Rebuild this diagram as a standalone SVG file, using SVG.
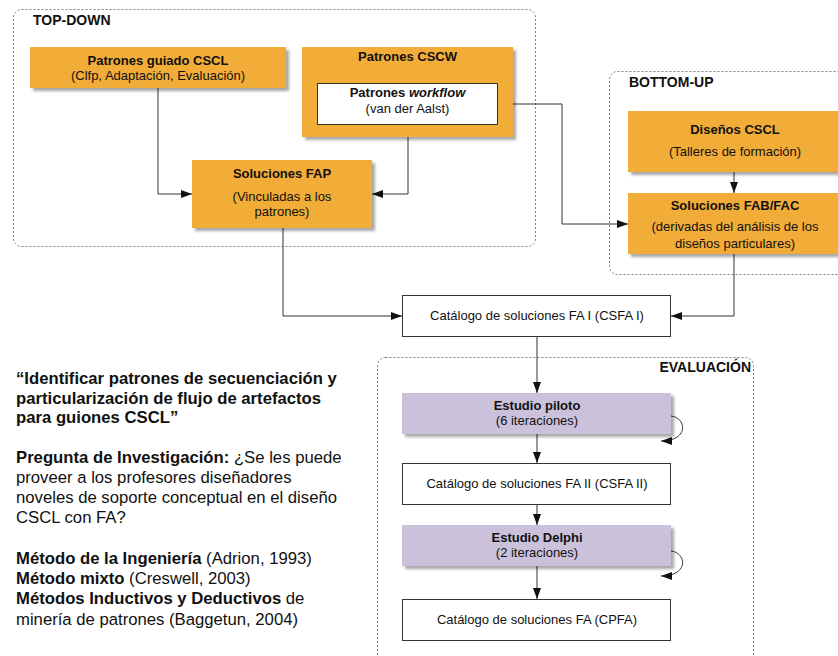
<svg xmlns="http://www.w3.org/2000/svg" width="838" height="656" viewBox="0 0 838 656">
<defs>
<filter id="sh" x="-10%" y="-20%" width="130%" height="150%">
<feDropShadow dx="3" dy="3" stdDeviation="1.5" flood-color="#000" flood-opacity="0.35"/>
</filter>
<marker id="ah" viewBox="0 0 11 8" refX="11" refY="4" markerWidth="11" markerHeight="8" markerUnits="userSpaceOnUse" orient="auto">
<path d="M0,0 L11,4 L0,8 z" fill="#111"/>
</marker>
<style>
.grp{fill:none;stroke:#7f7f7f;stroke-width:1;stroke-dasharray:2,2}
.gl{font-family:"Liberation Sans",Arial,sans-serif;font-size:14px;font-weight:bold;fill:#111}
.org{fill:#F2AC38;filter:url(#sh)}
.pur{fill:#CCC1DA;filter:url(#sh)}
.wht{fill:#fff;stroke:#333;stroke-width:1}
.t{font-family:"Liberation Sans",Arial,sans-serif;font-size:13px;fill:#111;text-anchor:middle}
.b{font-weight:bold}
.c{fill:none;stroke:#333;stroke-width:1;marker-end:url(#ah)}
.lt{font-family:"Liberation Sans",Arial,sans-serif;font-size:16.7px;fill:#111}
</style>
</defs>
<rect width="838" height="656" fill="#fff"/>

<g id="group-topdown">
<rect class="grp" x="13.5" y="9.5" width="522" height="237" rx="8"/>
<text class="gl" x="33" y="25">TOP-DOWN</text>
</g>
<g id="group-bottomup">
<rect class="grp" x="609.5" y="71.5" width="260" height="203" rx="8"/>
<text class="gl" x="629" y="87">BOTTOM-UP</text>
</g>
<g id="group-evaluacion">
<rect class="grp" x="377.5" y="357.5" width="376" height="320" rx="8"/>
<text class="gl" x="751" y="372" text-anchor="end">EVALUACIÓN</text>
</g>

<g id="connectors">
<path class="c" d="M158,88 V194 H192"/>
<path class="c" d="M408,137 V194 H372"/>
<path class="c" d="M497,104 H562 V224 H628"/>
<path class="c" d="M734,172 V193"/>
<path class="c" d="M283,228 V316 H402"/>
<path class="c" d="M734,254 V316 H671"/>
<path class="c" d="M537,336 V393"/>
<path class="c" d="M537,434 V463"/>
<path class="c" d="M537,504 V525"/>
<path class="c" d="M537,566 V599"/>
<path class="c" d="M671,416 C687,418 689,441 661,441"/>
<path class="c" d="M671,551 C687,553 689,576 661,576"/>
</g>

<g id="n-guiado">
<rect class="org" x="30" y="47" width="256" height="41"/>
<text class="t b" x="158" y="65">Patrones guiado CSCL</text>
<text class="t" x="158" y="80">(Clfp, Adaptación, Evaluación)</text>
</g>
<g id="n-cscw">
<rect class="org" x="302" y="47" width="211" height="90"/>
<text class="t b" x="407.5" y="61">Patrones CSCW</text>
</g>
<g id="n-workflow">
<rect class="wht" x="317.5" y="83.5" width="180" height="41"/>
<text class="t b" x="407.5" y="97">Patrones <tspan font-style="italic">workflow</tspan></text>
<text class="t" x="407.5" y="113">(van der Aalst)</text>
</g>
<g id="n-fap">
<rect class="org" x="192" y="160" width="180" height="68"/>
<text class="t b" x="282" y="178">Soluciones FAP</text>
<text class="t" x="282" y="201">(Vinculadas a los</text>
<text class="t" x="282" y="216">patrones)</text>
</g>
<g id="n-disenos">
<rect class="org" x="628" y="111" width="214" height="61"/>
<text class="t b" x="735" y="134">Diseños CSCL</text>
<text class="t" x="735" y="156">(Talleres de formación)</text>
</g>
<g id="n-fabfac">
<rect class="org" x="628" y="193" width="214" height="61"/>
<text class="t b" x="735" y="210">Soluciones FAB/FAC</text>
<text class="t" x="735" y="231">(derivadas del análisis de los</text>
<text class="t" x="735" y="248">diseños particulares)</text>
</g>
<g id="n-csfa1">
<rect class="wht" x="402.5" y="295.5" width="268" height="41"/>
<text class="t" x="537" y="320">Catálogo de soluciones FA I (CSFA I)</text>
</g>
<g id="n-piloto">
<rect class="pur" x="402" y="393" width="269" height="41"/>
<text class="t b" x="537" y="410">Estudio piloto</text>
<text class="t" x="537" y="425">(6 iteraciones)</text>
</g>
<g id="n-csfa2">
<rect class="wht" x="402.5" y="463.5" width="268" height="41"/>
<text class="t" x="537" y="488">Catálogo de soluciones FA II (CSFA II)</text>
</g>
<g id="n-delphi">
<rect class="pur" x="402" y="525" width="269" height="41"/>
<text class="t b" x="537" y="542">Estudio Delphi</text>
<text class="t" x="537" y="557">(2 iteraciones)</text>
</g>
<g id="n-cpfa">
<rect class="wht" x="402.5" y="599.5" width="268" height="41"/>
<text class="t" x="537" y="624">Catálogo de soluciones FA (CPFA)</text>
</g>

<g id="text-left">
<text class="lt b" x="16" y="384">“Identificar patrones de secuenciación y</text>
<text class="lt b" x="16" y="403.5">particularización de flujo de artefactos</text>
<text class="lt b" x="16" y="423">para guiones CSCL”</text>
<text class="lt" x="16" y="463"><tspan font-weight="bold">Pregunta de Investigación:</tspan> ¿Se les puede</text>
<text class="lt" x="16" y="483">proveer a los profesores diseñadores</text>
<text class="lt" x="16" y="503">noveles de soporte conceptual en el diseño</text>
<text class="lt" x="16" y="523">CSCL con FA?</text>
<text class="lt" x="16" y="563.5"><tspan font-weight="bold">Método de la Ingeniería</tspan> (Adrion, 1993)</text>
<text class="lt" x="16" y="583.5"><tspan font-weight="bold">Método mixto</tspan> (Creswell, 2003)</text>
<text class="lt" x="16" y="604"><tspan font-weight="bold">Métodos Inductivos y Deductivos</tspan> de</text>
<text class="lt" x="16" y="624.5">minería de patrones (Baggetun, 2004)</text>
</g>
</svg>
